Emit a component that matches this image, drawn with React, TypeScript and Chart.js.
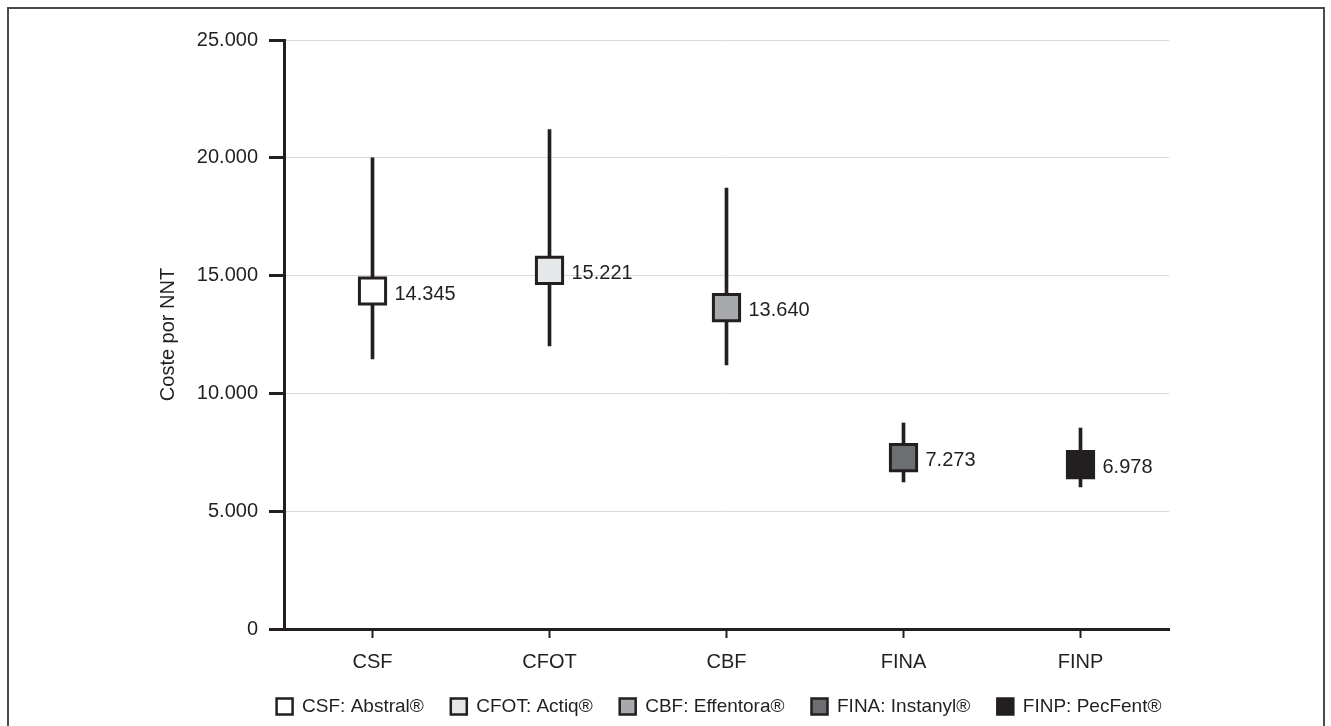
import React, { useEffect, useRef } from 'react';
import { Chart, registerables } from 'chart.js';

Chart.register(...registerables);

const categories = ['CSF', 'CFOT', 'CBF', 'FINA', 'FINP'];
const meanCost = [14345, 15221, 13640, 7273, 6978];
const lowCost = [11460, 12010, 11205, 6240, 6030];
const highCost = [20000, 21200, 18720, 8745, 8530];
const legendLabels = ['CSF: Abstral®', 'CFOT: Actiq®', 'CBF: Effentora®', 'FINA: Instanyl®', 'FINP: PecFent®'];
const boxColors = ['#ffffff', '#e6e7e8', '#a7a9ac', '#6d6e71', '#231f20'];
const yMin = 0;
const yMax = 25000;
const yStep = 5000;
const yTitle = 'Coste por NNT';

const INK = '#231f20';
const FONT_FAMILY = '"Liberation Sans", Arial, Helvetica, sans-serif';
const FONT_SIZE = 20;
const LEGEND_FONT_SIZE = 19;

const fmt = (v: number) => String(Math.round(v)).replace(/\B(?=(\d{3})+(?!\d))/g, '.');

const valueLabels = {
  id: 'valueLabels',
  afterDatasetsDraw(chart: any) {
    const meta = chart.getDatasetMeta(0);
    const ctx = chart.ctx;
    ctx.save();
    ctx.font = `${FONT_SIZE}px ${FONT_FAMILY}`;
    ctx.fillStyle = INK;
    ctx.textBaseline = 'middle';
    ctx.textAlign = 'left';
    meta.data.forEach((pt: any, i: number) => {
      ctx.fillText(fmt(meanCost[i]), pt.x + 22, pt.y + 3);
    });
    ctx.restore();
  },
};

export default function App() {
  const ref = useRef<HTMLCanvasElement | null>(null);

  useEffect(() => {
    document.body.style.overflow = 'hidden';
    const canvas = ref.current;
    if (!canvas) return;
    const legendPadding = 27;
    const legendHeight = Math.max(LEGEND_FONT_SIZE, 16) + legendPadding + 10;
    const chart = new Chart(canvas, {
      type: 'bar',
      data: {
        labels: categories,
        datasets: [
          {
            type: 'line',
            label: yTitle,
            data: meanCost,
            showLine: false,
            pointStyle: 'rect',
            pointRadius: 18.5,
            pointHoverRadius: 18.5,
            pointBackgroundColor: boxColors,
            pointBorderColor: INK,
            pointBorderWidth: 3,
            pointHoverBorderWidth: 3,
            order: 0,
          } as any,
          {
            type: 'bar',
            label: 'Intervalo',
            data: categories.map((_, i) => [lowCost[i], highCost[i]]),
            backgroundColor: INK,
            borderWidth: 0,
            barThickness: 3,
            order: 1,
          } as any,
        ],
      },
      options: {
        animation: false,
        responsive: false,
        maintainAspectRatio: false,
        events: [],
        layout: { padding: { left: 106, right: 0, top: 31, bottom: 0 } },
        font: { family: FONT_FAMILY, size: FONT_SIZE },
        plugins: {
          tooltip: { enabled: false },
          legend: {
            position: 'bottom',
            fullSize: true,
            labels: {
              boxWidth: 16,
              boxHeight: 16,
              padding: legendPadding,
              color: INK,
              font: { family: FONT_FAMILY, size: LEGEND_FONT_SIZE },
              generateLabels: () =>
                legendLabels.map((t, i) => ({
                  text: t,
                  fillStyle: boxColors[i],
                  strokeStyle: INK,
                  lineWidth: 2.5,
                  hidden: false,
                  fontColor: INK,
                  datasetIndex: 0,
                })),
            },
          },
        },
        scales: {
          x: {
            offset: true,
            grid: {
              offset: false,
              drawOnChartArea: false,
              tickColor: INK,
              tickWidth: 2,
              tickLength: 9,
            },
            border: { color: INK, width: 3 },
            ticks: { color: INK, font: { family: FONT_FAMILY, size: FONT_SIZE }, padding: 12 },
            afterFit: (s: any) => {
              s.height = 97 - legendHeight;
            },
          },
          y: {
            min: yMin,
            max: yMax,
            ticks: {
              stepSize: yStep,
              color: INK,
              padding: 11,
              font: { family: FONT_FAMILY, size: FONT_SIZE },
              callback: (v: any) => fmt(Number(v)),
            },
            grid: {
              color: '#d9d9d9',
              lineWidth: 1,
              tickColor: INK,
              tickWidth: 3,
              tickLength: 15,
            },
            border: { color: INK, width: 3 },
            title: {
              display: true,
              text: yTitle,
              color: INK,
              font: { family: FONT_FAMILY, size: FONT_SIZE },
              padding: { top: 41, bottom: 0 },
            },
            afterFit: (s: any) => {
              s.width = 169;
            },
          },
          yRightSpace: {
            type: 'linear',
            position: 'right',
            display: true,
            min: yMin,
            max: yMax,
            grid: { display: false, drawTicks: false },
            border: { display: false },
            ticks: { display: false },
            afterFit: (s: any) => {
              s.width = 154;
            },
          },
        },
      } as any,
      plugins: [valueLabels],
    });
    return () => chart.destroy();
  }, []);

  return (
    <div
      style={{
        position: 'absolute',
        left: 7,
        top: 7,
        width: 1318,
        height: 719,
        border: '2px solid #4a4a4a',
        borderBottom: 'none',
        boxSizing: 'border-box',
        background: '#fff',
        overflow: 'hidden',
      }}
    >
      <canvas ref={ref} width={1314} height={717} style={{ display: 'block', width: 1314, height: 717 }} />
    </div>
  );
}
